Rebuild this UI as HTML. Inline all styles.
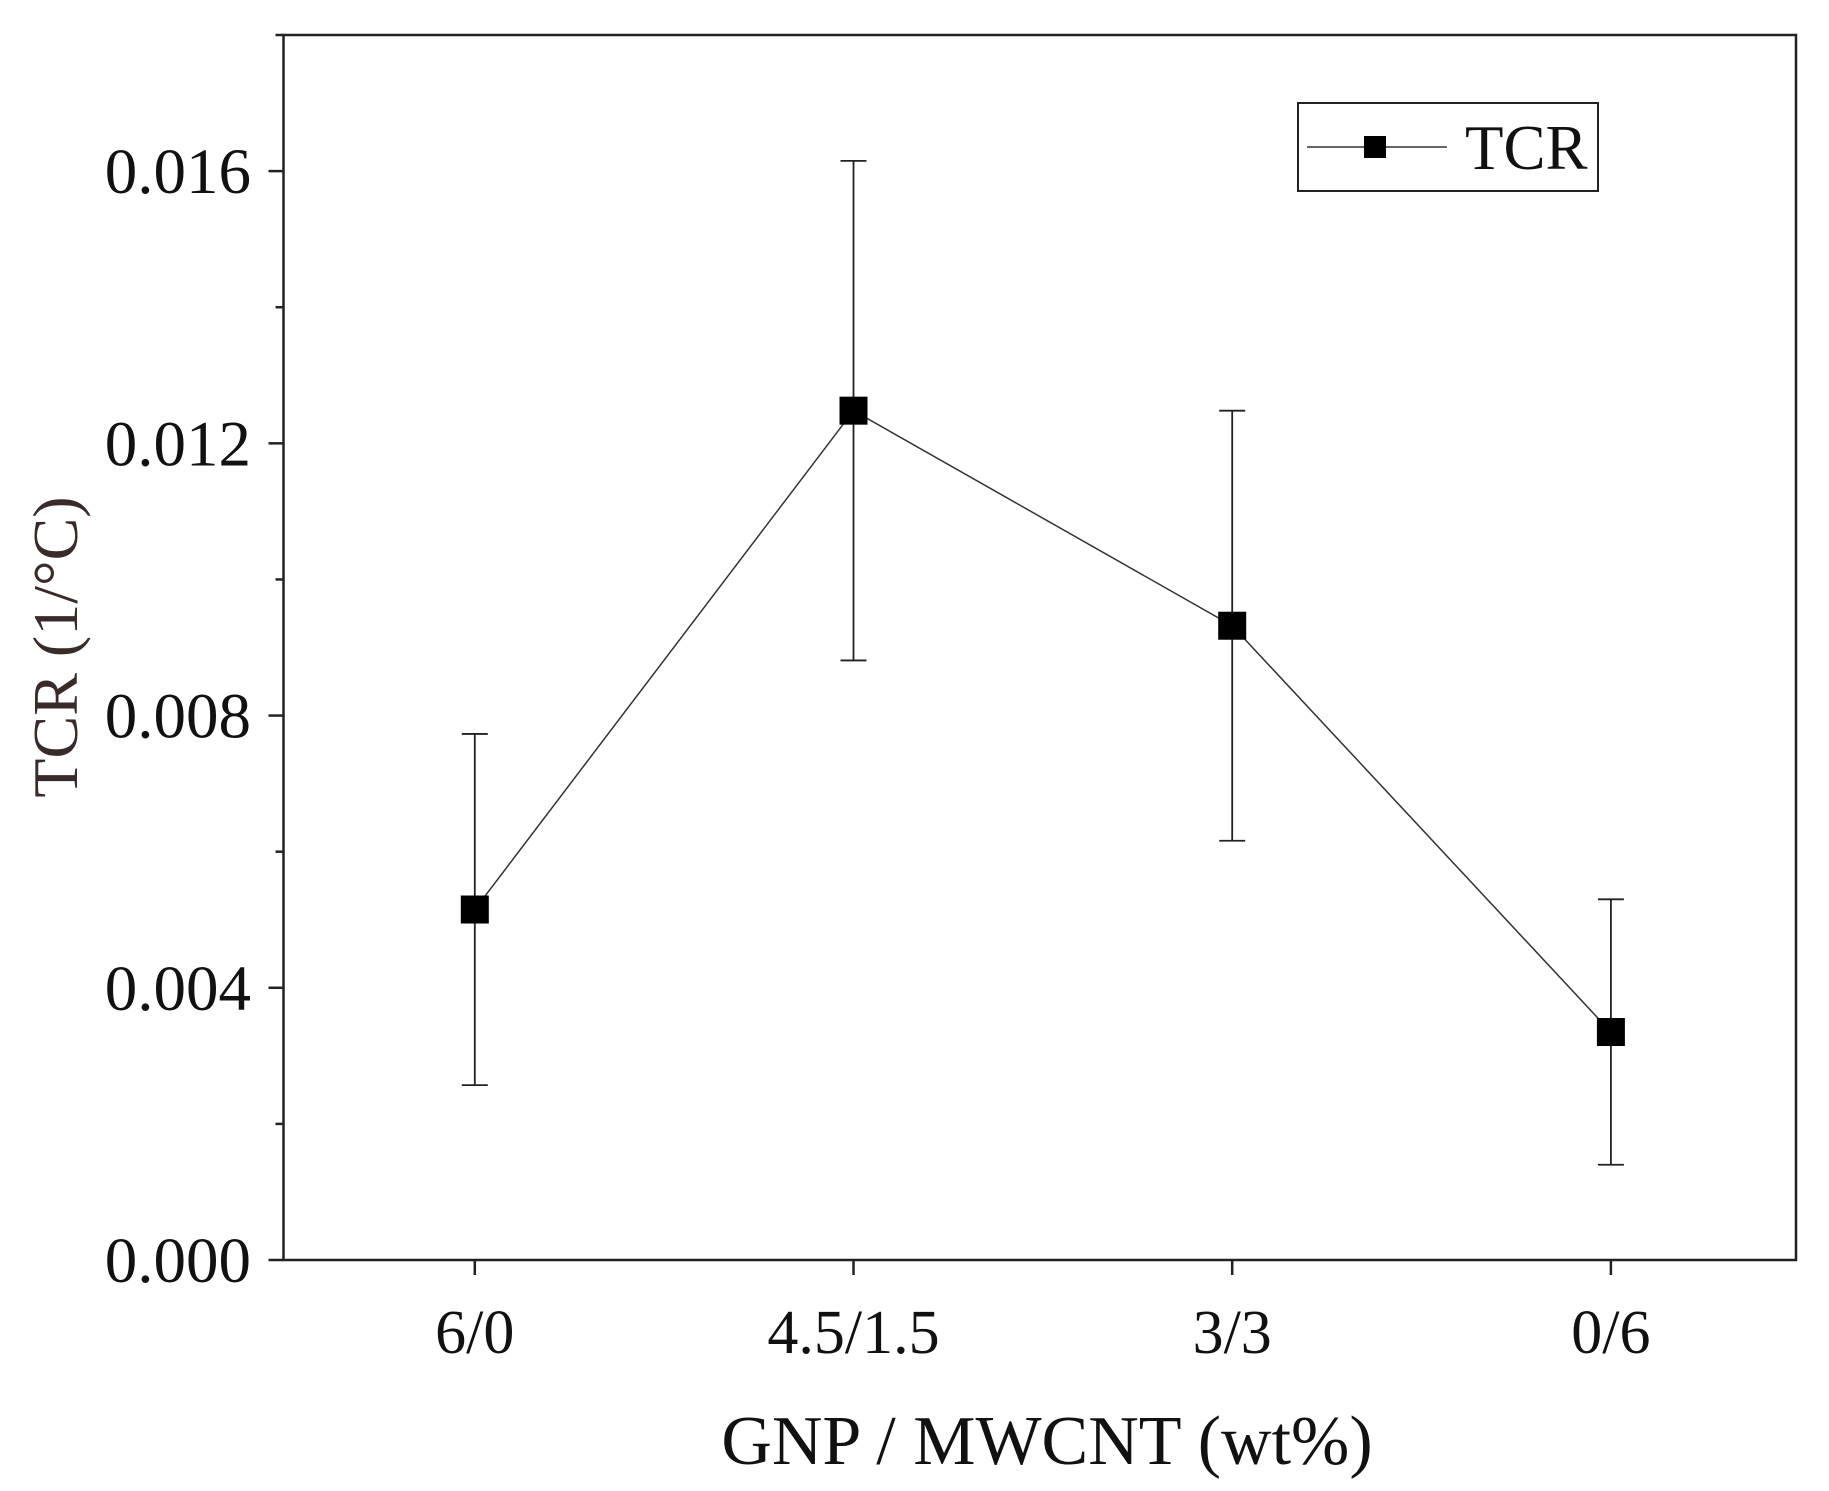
<!DOCTYPE html>
<html><head><meta charset="utf-8"><style>
html,body{margin:0;padding:0;background:#fff;}
svg text{font-family:"Liberation Serif",serif;fill:#111;}
</style></head><body>
<svg id="chart" width="1829" height="1486" viewBox="0 0 1829 1486" xmlns="http://www.w3.org/2000/svg">
<g id="grid"></g>
<g id="axes"></g>
<g id="series"></g>
<g>
<rect x="1298" y="103" width="300" height="88" fill="#fff" stroke="#222" stroke-width="2"/>
<line x1="1307" y1="147" x2="1447" y2="147" stroke="#333" stroke-width="1.5"/>
<rect x="1364" y="136" width="22" height="22" fill="#000"/>
<text x="1465" y="169" font-size="63">TCR</text>
</g>
</svg>
<script>
const categories = ["6/0","4.5/1.5","3/3","0/6"];
const tcrValues = [0.00515, 0.01248, 0.00932, 0.00335];
const tcrErrors = [0.00258, 0.00367, 0.00316, 0.00195];
const yTicks = [0.000, 0.004, 0.008, 0.012, 0.016];
const yTickLabels = ["0.000","0.004","0.008","0.012","0.016"];
const yMinorTicks = [0.002, 0.006, 0.010, 0.014, 0.018];

const L=283.5,R=1796,T=35,B=1260;
const yMin=0,yMax=0.018;
const ys=v=>B-(v-yMin)/(yMax-yMin)*(B-T);
const xs=i=>L+191.3+i*378.7;
const NS="http://www.w3.org/2000/svg";
function mk(tag,attrs,parent){const e=document.createElementNS(NS,tag);for(const k in attrs)e.setAttribute(k,attrs[k]);parent.appendChild(e);return e;}
const axes=document.getElementById('axes'), series=document.getElementById('series');

let fr=mk('rect',{x:L,y:T,width:R-L,height:B-T,fill:'none',stroke:'#222','stroke-width':2.5},axes);



yTicks.forEach((v,i)=>{
  let t=mk('line',{x1:L-15,x2:L,y1:ys(v),y2:ys(v),stroke:'#222','stroke-width':2.5},axes);
  
  
  let tx=mk('text',{x:251,y:ys(v)+22,'font-size':65,'text-anchor':'end'},axes);
  tx.textContent=yTickLabels[i];
  
  
});
yMinorTicks.forEach(v=>{
  let t=mk('line',{x1:L-8,x2:L,y1:ys(v),y2:ys(v),stroke:'#222','stroke-width':2.5},axes);
  
  
});
categories.forEach((c,i)=>{
  let t=mk('line',{x1:xs(i),x2:xs(i),y1:B,y2:B+15,stroke:'#222','stroke-width':2.5},axes);
  
  
  let tx=mk('text',{x:xs(i),y:1353,'font-size':62,'text-anchor':'middle'},axes);
  tx.textContent=c;
  
  
});
let xt=mk('text',{x:1047,y:1464,'font-size':70,'text-anchor':'middle'},axes);
xt.textContent='GNP / MWCNT (wt%)';


let yt=mk('text',{x:0,y:0,'font-size':64,'text-anchor':'middle',transform:'translate(77,647) rotate(-90)',style:'fill:#3a2b2b'},axes);
yt.textContent='TCR (1/°C)';



let pts=tcrValues.map((v,i)=>xs(i)+','+ys(v)).join(' ');
let pl=mk('polyline',{points:pts,fill:'none',stroke:'#333','stroke-width':1.5},series);


tcrValues.forEach((v,i)=>{
  const x=xs(i),y1=ys(v+tcrErrors[i]),y2=ys(v-tcrErrors[i]);
  let e=mk('path',{d:`M${x},${y1}V${y2}M${x-13},${y1}H${x+13}M${x-13},${y2}H${x+13}`,stroke:'#222','stroke-width':1.8,fill:'none'},series);
  
  
  let m=mk('rect',{x:x-14,y:ys(v)-14,width:28,height:28,fill:'#000'},series);
  
  
});
</script>
</body></html>
